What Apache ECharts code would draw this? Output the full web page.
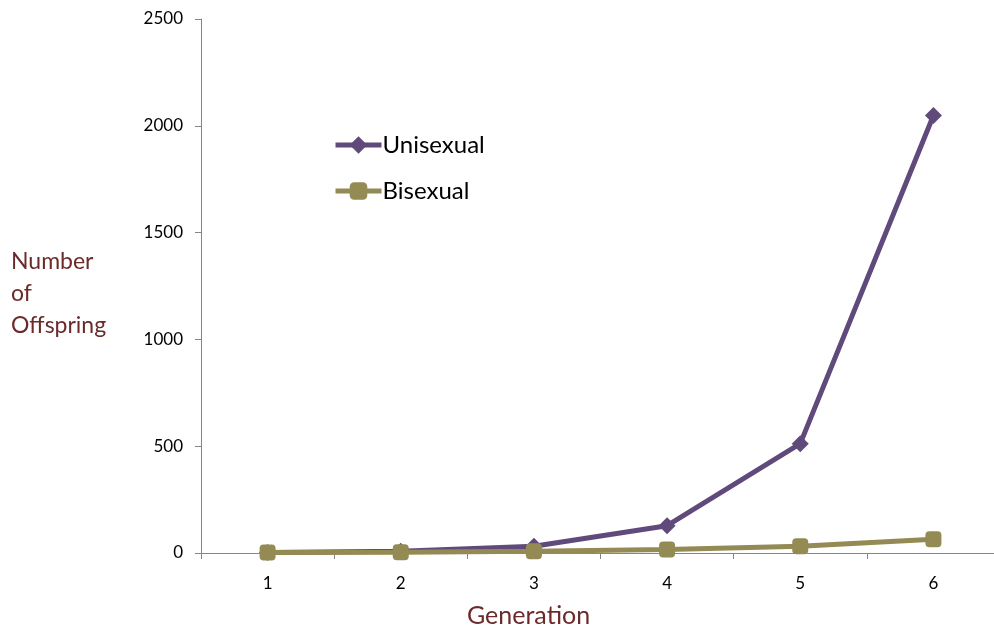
<!DOCTYPE html>
<html><head><meta charset="utf-8">
<script src="https://cdn.jsdelivr.net/npm/echarts@6/dist/echarts.min.js"></script>
<style>html,body{margin:0;padding:0;background:#fff}#c{width:994px;height:630px}</style>
</head><body><div id="c"></div>
<script>
const categories = ['1','2','3','4','5','6'];
const unisexual = [2, 8, 32, 128, 512, 2048];
const bisexual = [2, 4, 8, 16, 32, 64];
const seriesNames = ['Unisexual', 'Bisexual'];
const yTitle = 'Number\nof\nOffspring';
const xTitle = 'Generation';

const font = 'Lato, "Open Sans", sans-serif';
const purple = '#604A7B', olive = '#948A54';
const chart = echarts.init(document.getElementById('c'));
chart.setOption({
  animation: false,
  textStyle: {fontFamily: font},
  grid: {left: 201, right: -6, top: 19, bottom: 77, containLabel: false, outerBoundsMode: 'none'},
  legend: {
    orient: 'vertical', left: 333, top: 133, itemGap: 22, padding: 0,
    itemWidth: 46, itemHeight: 22,
    textStyle: {fontSize: 24, color: '#000', fontFamily: font, padding: [0,0,0,-4]},
    data: [
      {name: seriesNames[0], itemStyle: {color: purple}, lineStyle: {color: purple, width: 5}},
      {name: seriesNames[1], itemStyle: {color: olive}, lineStyle: {color: olive, width: 5}}
    ]
  },
  xAxis: {
    type: 'category', data: categories, boundaryGap: true,
    axisLine: {lineStyle: {color: '#868686', width: 1}},
    axisTick: {show: true, length: 6, inside: false, lineStyle: {color: '#868686'}},
    axisLabel: {fontSize: 17, color: '#000', margin: 22}
  },
  yAxis: {
    type: 'value', min: 0, max: 2500, interval: 500,
    axisLine: {show: true, lineStyle: {color: '#868686', width: 1}},
    axisTick: {show: true, length: 6, lineStyle: {color: '#868686'}},
    axisLabel: {fontSize: 17, color: '#000', margin: 18, formatter: v => String(v)},
    splitLine: {show: false}
  },
  graphic: [{
    type: 'text', left: 11, top: 246,
    style: {text: yTitle, fontSize: 23, fill: '#6B2B2B', fontFamily: font, lineHeight: 32}
  }, {
    type: 'text', left: 467, top: 603,
    style: {text: xTitle, fontSize: 25, fill: '#6B2B2B', fontFamily: font}
  }],
  series: [
    {name: seriesNames[0], type: 'line', data: unisexual, symbol: 'diamond', symbolSize: 17,
     lineStyle: {color: purple, width: 5}, itemStyle: {color: purple}, z: 2},
    {name: seriesNames[1], type: 'line', data: bisexual, symbol: 'roundRect', symbolSize: 16,
     lineStyle: {color: olive, width: 5}, itemStyle: {color: olive}, z: 3}
  ]
});
</script></body></html>
